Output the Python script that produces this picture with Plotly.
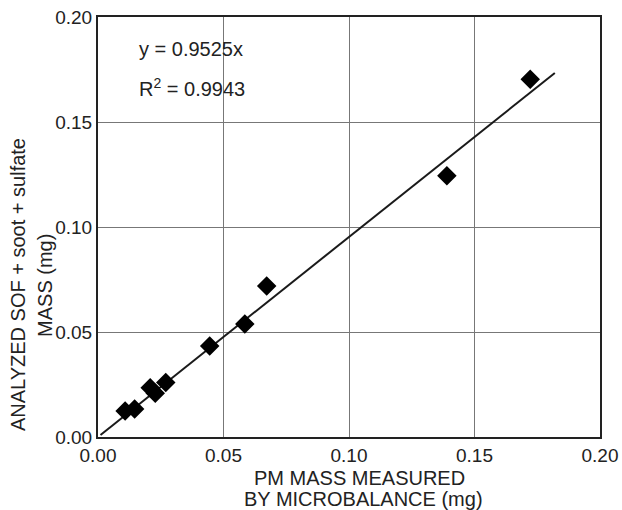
import plotly.graph_objects as go

measured = [0.0108, 0.0146, 0.0208, 0.0228, 0.0270, 0.0445, 0.0585, 0.0672, 0.1390, 0.1722]
analyzed = [0.0124, 0.0133, 0.0235, 0.0208, 0.0260, 0.0433, 0.0538, 0.0719, 0.1244, 0.1703]
slope = 0.9525
fit_x = [0.001, 0.182]
fit_y = [slope * v for v in fit_x]
ticks = [0.0, 0.05, 0.10, 0.15, 0.20]
tick_text = ["0.00", "0.05", "0.10", "0.15", "0.20"]
x_title = ["PM MASS MEASURED", "BY MICROBALANCE (mg)"]
y_title = ["ANALYZED SOF + soot + sulfate", "MASS (mg)"]

fam = "Liberation Sans, Arial, sans-serif"
tick_font = dict(family=fam, size=19, color="#222")
title_font = dict(family=fam, size=20, color="#222")

fig = go.Figure()
fig.add_trace(go.Scatter(x=fit_x, y=fit_y, mode="lines",
                         line=dict(color="#1a1a1a", width=2), showlegend=False))
fig.add_trace(go.Scatter(x=measured, y=analyzed, mode="markers",
                         marker=dict(symbol="diamond", size=15, color="black"),
                         showlegend=False))

fig.add_annotation(x=0.0155, y=0.1848, xref="x", yref="y", text="y = 0.9525x",
                   showarrow=False, xanchor="left", font=title_font)
fig.add_annotation(x=0.0155, y=0.1662, xref="x", yref="y", text="R<sup>2</sup> = 0.9943",
                   showarrow=False, xanchor="left", font=title_font)

# axis titles
common = dict(xref="paper", yref="paper", showarrow=False, font=title_font,
              xanchor="center", yanchor="middle")
fig.add_annotation(x=0.52, y=-0.0976, text=x_title[0], **common)
fig.add_annotation(x=0.528, y=-0.148, text=x_title[1], **common)
fig.add_annotation(x=-0.1594, y=0.364, text=y_title[0], textangle=-90, **common)
fig.add_annotation(x=-0.1056, y=0.362, text=y_title[1], textangle=-90, **common)

axis_common = dict(showline=True, linecolor="#222", linewidth=2, mirror=True,
                   showgrid=True, gridcolor="#777", gridwidth=1, zeroline=False,
                   automargin=False,
                   ticks="", tickfont=tick_font, tickvals=ticks, ticktext=tick_text)
fig.update_xaxes(range=[0, 0.2], **axis_common)
fig.update_yaxes(range=[0, 0.2], **axis_common)

fig.update_layout(width=622, height=510, margin=dict(l=98, r=22, t=17, b=73),
                  plot_bgcolor="white", paper_bgcolor="white", font=title_font)
fig.write_html("out.html")
